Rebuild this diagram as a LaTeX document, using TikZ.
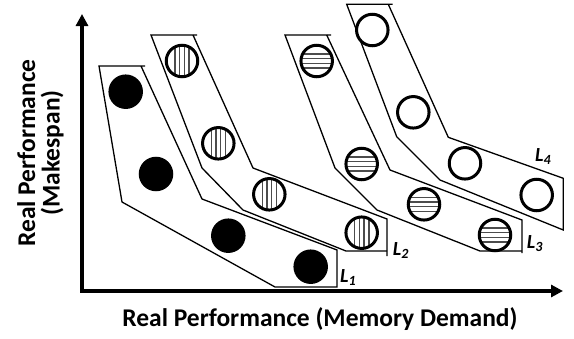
\documentclass[tikz,border=0pt]{standalone}
\usepackage{fontspec}
\setmainfont{Carlito}
\usetikzlibrary{arrows.meta}

\tikzset{
  band/.style={line width=1.3pt, line join=miter},
  axis/.style={line width=3.5pt, {Triangle[length=12pt,width=12pt]}-{Triangle[length=12pt,width=12pt]}},
  dot/.style={circle, draw=black, line width=3pt, minimum size=31.5pt, inner sep=0pt},
  vhatch/.style={dot, path picture={
    \foreach \off in {-7.05,-2.35,2.35,7.05}
      \draw[black!70, line width=1.5pt] ([xshift=\off pt]path picture bounding box.south) -- ([xshift=\off pt]path picture bounding box.north);}},
  hhatch/.style={dot, path picture={
    \foreach \off in {-7.05,-2.35,2.35,7.05}
      \draw[black!70, line width=1.5pt] ([yshift=\off pt]path picture bounding box.west) -- ([yshift=\off pt]path picture bounding box.east);}},
  lvl/.style={anchor=base west, inner sep=0pt, font=\fontsize{20}{22}\selectfont\bfseries\itshape},
  axlabel/.style={font=\fontsize{25.5}{24.5}\selectfont\bfseries, inner sep=0pt, align=center}
}

\begin{document}
\begin{tikzpicture}[x=1pt, y=-1pt]
  \useasboundingbox (0,0) rectangle (574,338);

  % Axes
  \draw[axis] (82,14) -- (82,291) -- (563,291);
  \node[axlabel, anchor=base] (xlab) at (320,326.7) {Real Performance (Memory Demand)};
  \node[axlabel, rotate=90] (ylab) at (40.5,153) {Real Performance\\(Makespan)};

  % L1 band
  \draw[band] (145,66) -- (99,66) -- (122,202) -- (275,287) -- (337,287) -- (337,250) -- (202,199) -- (141,66);
  \node[dot, fill=black] (a1) at (125.7,91.7) {};
  \node[dot, fill=black] (a2) at (156,174) {};
  \node[dot, fill=black] (a3) at (228.3,235.7) {};
  \node[dot, fill=black] (a4) at (310.7,266.7) {};
  \node[lvl] (l1) at (340,282) {L\textsubscript{1}};

  % L2 band
  \draw[band] (197,35) -- (151,35) -- (202,168) -- (243,210) -- (346,251) -- (387,251);
  \draw[band] (387,256) -- (387,219) -- (253,168) -- (193,35);
  \node[vhatch] (b1) at (182,61) {};
  \node[vhatch] (b2) at (218.3,143.3) {};
  \node[vhatch] (b3) at (269.3,194.3) {};
  \node[vhatch] (b4) at (361.7,232.7) {};
  \node[lvl] (l2) at (392.7,255) {L\textsubscript{2}};

  % L3 band
  \draw[band] (331,35) -- (285,35) -- (335,168) -- (377,210) -- (480,251) -- (522,251);
  \draw[band] (522,253) -- (522,220) -- (390,170) -- (326.7,35);
  \node[hhatch] (c1) at (316.7,61) {};
  \node[hhatch] (c2) at (361.7,164) {};
  \node[hhatch] (c3) at (424,204.3) {};
  \node[hhatch] (c4) at (495,235) {};
  \node[lvl] (l3) at (526.7,248.3) {L\textsubscript{3}};

  % L4 band
  \draw[band] (392.7,4.3) -- (346.7,4.3) -- (396.7,136.7) -- (440,180) -- (563.3,230) -- (563.3,178.3) -- (448.3,137.3) -- (388.3,4.3);
  \node[dot, fill=white] (d1) at (372.3,30) {};
  \node[dot, fill=white] (d2) at (413.3,112.3) {};
  \node[dot, fill=white] (d3) at (465,163.3) {};
  \node[dot, fill=white] (d4) at (536.7,195) {};
  \node[lvl] (l4) at (535,161) {L\textsubscript{4}};
\end{tikzpicture}
\end{document}
